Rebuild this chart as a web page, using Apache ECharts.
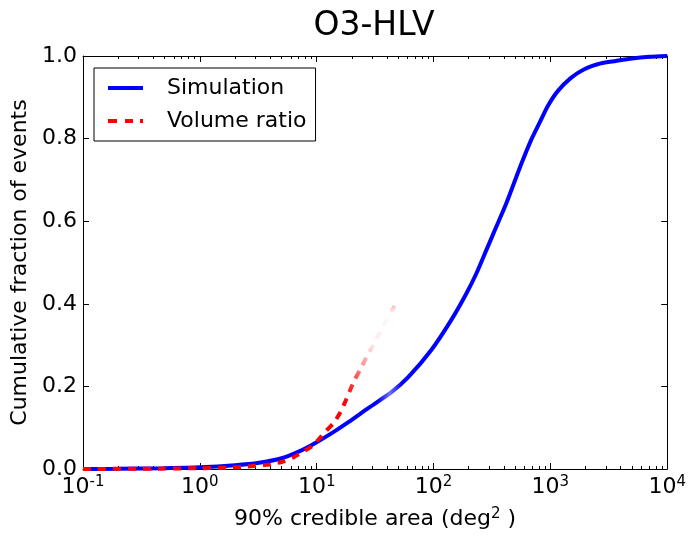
<!DOCTYPE html>
<html lang="en">

<head>
    <title>O3-HLV</title>
    <meta charset="UTF-8">
    <style type="text/css">
        html,
        body {
            width: 100%;
            height: 100%;
            margin: 0px;
            background: #fff;
        }
    </style>
    <script type="text/javascript" src="https://cdn.jsdelivr.net/npm/echarts@6.0.0/dist/echarts.min.js"></script>
</head>

<body>
    <div id="chart" style="width: 689px; height: 539px;"></div>
</body>

<script type="text/javascript">
    // simulation CDF: area (deg^2) vs cumulative fraction
    var simArea = [0.1, 0.2, 0.5, 1, 2, 3.2, 5, 7, 10, 14, 18.8, 27.8, 43.6, 61, 95.7, 142, 191, 233, 283, 345,
        419, 494, 562, 685, 807, 951, 1156, 1500, 1950, 2700, 3630, 5000, 7000, 10000];
    var simFrac = [0, 0.0005, 0.002, 0.004, 0.009, 0.015, 0.026, 0.042, 0.065, 0.09, 0.114, 0.148, 0.186, 0.223, 0.288, 0.361,
        0.425, 0.474, 0.530, 0.587, 0.643, 0.696, 0.738, 0.797, 0.838, 0.879, 0.915, 0.947, 0.968, 0.982, 0.988, 0.994, 0.998, 1.0];

    // volume ratio estimate
    var volArea = [0.1, 0.5, 1, 1.7, 2.5, 3.7, 5, 6.2, 7.05, 8, 9.1, 10.8, 12, 14, 16, 18, 20.7, 23.5, 26.7, 32, 38, 46.3];
    var volFrac = [0, 0.001, 0.002, 0.003, 0.006, 0.01, 0.017, 0.027, 0.036, 0.045, 0.055, 0.077, 0.092, 0.112, 0.138,
        0.17, 0.211, 0.24, 0.271, 0.312, 0.351, 0.395];

    var decades = [-1, 0, 1, 2, 3, 4];

    var minorTicks = [];
    for (var d = -1; d < 4; d++) {
        for (var k = 2; k <= 9; k++) {
            minorTicks.push(d + Math.log10(k));
        }
    }

    function toLog(xs, ys) {
        var out = [];
        for (var i = 0; i < xs.length; i++) {
            out.push([Math.log10(xs[i]), ys[i]]);
        }
        return out;
    }

    var font = 'DejaVu Sans';

    function xAxisDef(pos, vals, len, showLine, withLabels) {
        return {
            type: 'value',
            position: pos,
            min: -1,
            max: 4,
            interval: 1,
            axisLine: { show: showLine, onZero: false, lineStyle: { color: '#000', width: 1 } },
            axisTick: { show: true, inside: true, length: len, customValues: vals, lineStyle: { color: '#000', width: 1 } },
            axisLabel: withLabels ? {
                show: true,
                margin: 6,
                color: '#000',
                formatter: function (v) { return '{b|10}{s|' + v + '}'; },
                rich: {
                    b: { fontFamily: font, fontSize: 22, color: '#000' },
                    s: { fontFamily: font, fontSize: 15, color: '#000', padding: [0, 0, 10, 0] }
                }
            } : { show: false },
            splitLine: { show: false }
        };
    }

    function yAxisDef(pos, withLabels) {
        return {
            type: 'value',
            position: pos,
            min: 0,
            max: 1,
            interval: 0.2,
            axisLine: { show: true, onZero: false, lineStyle: { color: '#000', width: 1 } },
            axisTick: { show: true, inside: true, length: 6, lineStyle: { color: '#000' } },
            axisLabel: withLabels ? {
                margin: 6, fontFamily: font, fontSize: 22, color: '#000',
                formatter: function (v) { return v.toFixed(1); }
            } : { show: false },
            splitLine: { show: false }
        };
    }

    var chart = echarts.init(document.getElementById('chart'));

    var xMain = xAxisDef('bottom', decades, 6, true, true);
    xMain.name = '90% credible area (deg{s|2} )';
    xMain.nameLocation = 'middle';
    xMain.nameGap = 38;
    xMain.nameTextStyle = {
        fontFamily: font, fontSize: 22, color: '#000',
        rich: { s: { fontFamily: font, fontSize: 15, color: '#000', padding: [0, 0, 10, 0] } }
    };

    var yMain = yAxisDef('left', true);
    yMain.name = 'Cumulative fraction of events';
    yMain.nameLocation = 'middle';
    yMain.nameGap = 43;
    yMain.nameTextStyle = { fontFamily: font, fontSize: 22, color: '#000' };

    var options = {
        animation: false,
        title: {
            text: 'O3-HLV',
            left: 369,
            top: 5,
            textAlign: 'center',
            textStyle: { fontFamily: font, fontSize: 33, fontWeight: 'normal', color: '#000' }
        },
        grid: { left: 83, right: 19, top: 56, bottom: 70 },
        legend: {
            orient: 'vertical',
            left: 94,
            top: 68,
            padding: [9, 9, 9, 14],
            itemGap: 11,
            itemWidth: 35,
            itemHeight: 14,
            borderColor: '#000',
            borderWidth: 1,
            borderRadius: 0,
            textStyle: { fontFamily: font, fontSize: 22, color: '#000', padding: [0, 0, 0, 19] },
            data: [
                { name: 'Simulation', icon: 'path://M0,0L35,0L35,4L0,4Z', itemStyle: { color: '#0000ff' } },
                { name: 'Volume ratio', icon: 'path://M0,0h9v4h-9zM17,0h8v4h-8zM32,0h3v4h-3z', itemStyle: { color: '#ff0000' } }
            ]
        },
        xAxis: [
            xMain,
            xAxisDef('bottom', minorTicks, 3, false, false),
            xAxisDef('top', decades, 6, true, false),
            xAxisDef('top', minorTicks, 3, false, false)
        ],
        yAxis: [yMain, yAxisDef('right', false)],
        series: [
            {
                name: 'Simulation',
                type: 'line',
                data: toLog(simArea, simFrac),
                symbol: 'none',
                smooth: 0.25,
                z: 2,
                itemStyle: { color: '#0000ff' },
                lineStyle: {
                    width: 4,
                    color: new echarts.graphic.LinearGradient(0, 0, 1, 0, [
                        { offset: 0, color: '#0000ff' },
                        { offset: 0.505, color: '#0000ff' },
                        { offset: 0.525, color: '#6f6fff' },
                        { offset: 0.545, color: '#0000ff' },
                        { offset: 1, color: '#0000ff' }
                    ])
                },
                emphasis: { disabled: true }
            },
            {
                name: 'Volume ratio',
                type: 'line',
                data: toLog(volArea, volFrac),
                symbol: 'none',
                smooth: 0.25,
                z: 3,
                itemStyle: { color: '#ff0000' },
                lineStyle: {
                    width: 4,
                    type: [8, 7],
                    color: new echarts.graphic.LinearGradient(0, 1, 0, 0, [
                        { offset: 0, color: 'rgba(255,0,0,1)' },
                        { offset: 0.4, color: 'rgba(255,0,0,1)' },
                        { offset: 0.52, color: 'rgba(255,0,0,0.8)' },
                        { offset: 0.66, color: 'rgba(255,0,0,0.35)' },
                        { offset: 0.76, color: 'rgba(255,0,0,0.08)' },
                        { offset: 0.93, color: 'rgba(255,0,0,0.03)' },
                        { offset: 1, color: 'rgba(255,0,0,0.3)' }
                    ])
                },
                emphasis: { disabled: true }
            }
        ]
    };
    chart.setOption(options);
</script>

</html>
